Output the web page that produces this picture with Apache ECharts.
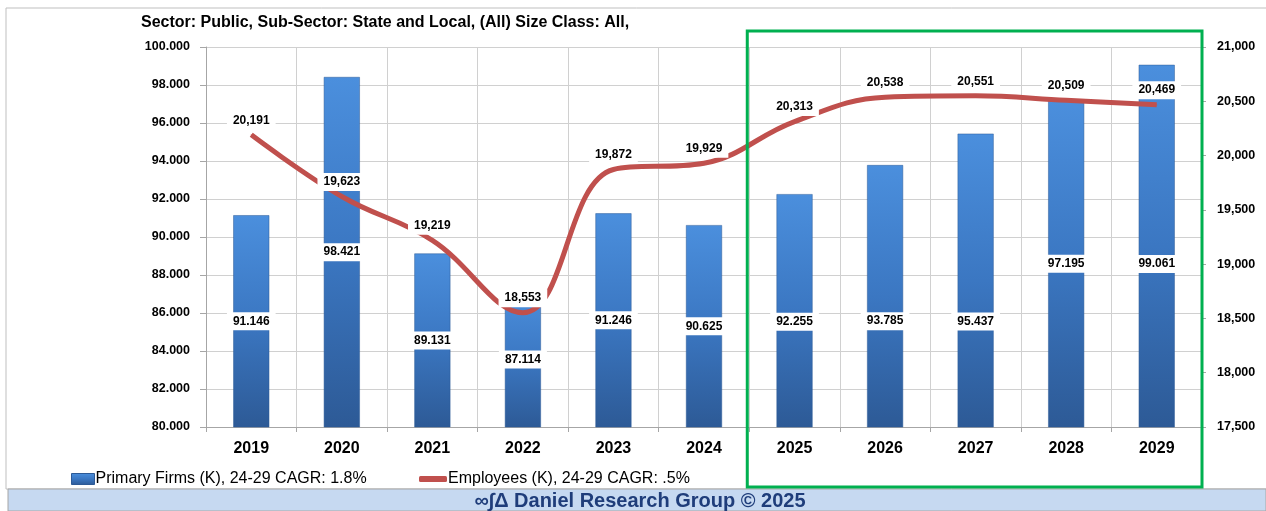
<!DOCTYPE html>
<html>
<head>
<meta charset="utf-8">
<script src="https://cdn.jsdelivr.net/npm/echarts@6/dist/echarts.min.js"></script>
<style>html,body{margin:0;padding:0;background:#fff}#c{width:1266px;height:511px}</style>
</head>
<body>
<div id="c"></div>
<script>
var categories = ['2019','2020','2021','2022','2023','2024','2025','2026','2027','2028','2029'];
var firms = [91.146, 98.421, 89.131, 87.114, 91.246, 90.625, 92.255, 93.785, 95.437, 97.195, 99.061];
var employees = [20191, 19623, 19219, 18553, 19872, 19929, 20313, 20538, 20551, 20509, 20469];
var leftTicks = {min: 80, max: 100, interval: 2};
var rightTicks = {min: 17500, max: 21000, interval: 500};
var titleText = 'Sector: Public, Sub-Sector: State and Local, (All) Size Class: All,';
var legendNames = ['Primary Firms (K), 24-29 CAGR: 1.8%', 'Employees (K), 24-29 CAGR: .5%'];
var footerText = '\u221E\u222B\u0394 Daniel Research Group \u00A9 2025';

// label vertical shifts (styling only)
var barLabelShift = [0,0,0,0,0,0,11,25,41,0,18];

var FONT = 'Liberation Sans';
var chart = echarts.init(document.getElementById('c'));

var barGrad = new echarts.graphic.LinearGradient(0,0,0,1,[
  {offset:0, color:'#4b8fdd'},
  {offset:0.5, color:'#3b77c2'},
  {offset:1, color:'#2d5a96'}
]);

var barData = firms.map(function(v,i){
  return {value: v, label: {offset: [0, barLabelShift[i]]}};
});

var option = {
  animation: false,
  textStyle: {fontFamily: FONT},
  title: {
    text: titleText, left: 136, top: 10,
    textStyle: {fontFamily: FONT, fontSize: 16, fontWeight: 'bold', color: '#000'}
  },
  grid: {left: 206, right: 64, top: 47, bottom: 84},
  legend: [
    {
      left: 66, top: 466, itemGap: 0, itemWidth: 23, itemHeight: 11,
      textStyle: {fontFamily: FONT, fontSize: 16, color: '#000', padding: [0,0,0,-4]},
      data: [{name: legendNames[0], icon: 'rect', itemStyle: {color: barGrad, borderColor: '#2d5a96', borderWidth: 1}}]
    },
    {
      left: 414, top: 466, itemGap: 0, itemWidth: 28, itemHeight: 6,
      textStyle: {fontFamily: FONT, fontSize: 16, color: '#000', padding: [0,0,0,-4]},
      data: [{name: legendNames[1], icon: 'roundRect', itemStyle: {color: '#c0504d'}}]
    }
  ],
  xAxis: {
    type: 'category', data: categories, boundaryGap: true,
    axisLine: {lineStyle: {color: '#a6a6a6'}},
    axisTick: {show: true, length: 5, lineStyle: {color: '#a6a6a6'}},
    splitLine: {show: true, lineStyle: {color: '#d0d0d0'}},
    axisLabel: {fontFamily: FONT, fontSize: 16, fontWeight: 'bold', color: '#000', margin: 14}
  },
  yAxis: [
    {
      type: 'value', min: leftTicks.min, max: leftTicks.max, interval: leftTicks.interval,
      axisLine: {show: true, lineStyle: {color: '#a6a6a6'}},
      axisTick: {show: true, length: 6, lineStyle: {color: '#a6a6a6'}},
      splitLine: {show: true, lineStyle: {color: '#d0d0d0'}},
      axisLabel: {fontFamily: FONT, fontSize: 12.5, fontWeight: 'bold', color: '#000', margin: 16,
        formatter: function(v){ return v.toFixed(3); }}
    },
    {
      type: 'value', min: rightTicks.min, max: rightTicks.max, interval: rightTicks.interval,
      position: 'right',
      axisLine: {show: false},
      axisTick: {show: true, length: 4, lineStyle: {color: '#a6a6a6'}},
      splitLine: {show: false},
      axisLabel: {fontFamily: FONT, fontSize: 12.5, fontWeight: 'bold', color: '#000', margin: 15,
        formatter: function(v){ return v.toLocaleString('en-US'); }}
    }
  ],
  series: [
    {
      name: legendNames[0], type: 'bar', data: barData, barWidth: 36, yAxisIndex: 0,
      itemStyle: {color: barGrad, borderColor: '#2d5a96', borderWidth: 0.5},
      label: {
        show: true, position: 'inside', color: '#000', fontFamily: FONT, fontSize: 12, fontWeight: 'bold',
        backgroundColor: '#fff', padding: [3, 6],
        formatter: function(p){ return p.value.toFixed(3); }
      },
      z: 2
    },
    {
      name: legendNames[1], type: 'line', data: employees, yAxisIndex: 1,
      smooth: 0.4, symbol: 'circle', symbolSize: 1, showSymbol: true,
      lineStyle: {color: '#c0504d', width: 5},
      itemStyle: {color: '#c0504d'},
      label: {
        show: true, position: 'top', distance: 5, color: '#000', fontFamily: FONT, fontSize: 12, fontWeight: 'bold',
        backgroundColor: '#fff', padding: [3, 6],
        formatter: function(p){ return p.value.toLocaleString('en-US'); }
      },
      z: 3
    }
  ]
};
chart.setOption(option);

// decorations
var x0 = chart.convertToPixel({xAxisIndex: 0}, '2024');
var x1 = chart.convertToPixel({xAxisIndex: 0}, '2025');
var boxLeft = (x0 + x1) / 2 - 2;
var gridRect = chart.getModel().getComponent('grid').coordinateSystem.getRect();
var boxRight = gridRect.x + gridRect.width;

chart.setOption({
  graphic: [
    {type: 'rect', shape: {x: 6, y: 8, width: 1270, height: 481}, style: {fill: 'none', stroke: '#bfbfbf', lineWidth: 1}, z: -10, silent: true},
    {type: 'rect', shape: {x: 8, y: 489, width: 1258, height: 22}, style: {fill: '#c6d9f1', stroke: '#a6a6a6', lineWidth: 1}, z: 0, silent: true},
    {type: 'text', x: 640, y: 501, style: {text: footerText, fill: '#1f3d7a', font: 'bold 20px "Liberation Sans"', textAlign: 'center', textVerticalAlign: 'middle'}, z: 1, silent: true},
    {type: 'rect', shape: {x: boxLeft, y: 31, width: boxRight - boxLeft, height: 456}, style: {fill: 'none', stroke: '#00b050', lineWidth: 3}, z: 100, silent: true}
  ]
});
</script>
</body>
</html>
